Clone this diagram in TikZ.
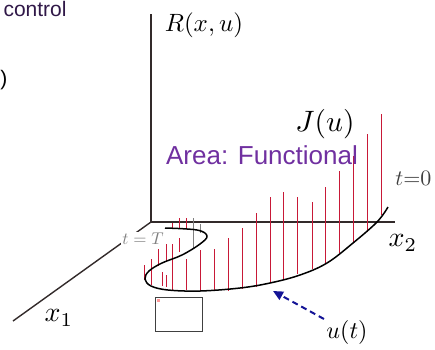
\RequirePackage{fix-cm}
\documentclass[tikz,border=0pt]{standalone}
\usepackage{fontspec}
\newfontfamily\arialfont{Liberation Sans}
\usetikzlibrary{arrows.meta}
\definecolor{axisgray}{RGB}{50,42,42}
\definecolor{stickred}{RGB}{200,25,55}
\definecolor{areapurple}{RGB}{112,48,160}
\definecolor{ctrlpurple}{RGB}{48,24,72}
\definecolor{arrowblue}{RGB}{20,20,150}

\begin{document}
\begin{tikzpicture}[
            x=1pt, y=-1pt,
            axis/.style={draw=axisgray, line width=1.4pt},
            stick/.style={draw=stickred, line width=0.9pt},
            shadestick/.style={draw=gray, line width=0.9pt},
            ucurve/.style={draw=black, line width=1.5pt},
            mathlabel/.style={inner sep=0pt, font=\fontsize{10}{12}\selectfont},
            sanslabel/.style={inner sep=0pt, font=\arialfont\fontsize{10}{12}\selectfont},
            uarrow/.style={-{Triangle[length=10pt,width=9pt]}, draw=arrowblue, line width=2pt, dash pattern=on 6pt off 4pt}
        ]
            \useasboundingbox (0,0) rectangle (435,349);
            \coordinate (origin) at (151,222);
            \coordinate (rtop) at (151,14);
            \coordinate (x2end) at (395,222);
            \coordinate (x1end) at (13,321);
            
            \draw[axis] (origin) -- (rtop);
            \draw[axis] (origin) -- (x2end);
            \draw[axis] (origin) -- (x1end);
            
            % bars of R over the path
            \foreach \sx/\sa/\sb in {144/265/280, 151/259/285, 158/249/266, 162/272/286,
                166/244/262, 166/275/287, 172/223/228, 172/244/290, 179/218/228, 179/238/252,
                186/218/228, 186/259/290, 200/250/291, 214/249/291, 228/238/291, 242/228/289,
                256/213/287, 270/197/283, 283/192/279, 297/197/274, 312/202/269, 325/187/264,
                339/171/253, 353/156/242, 367/134/232, 381/114/215}
                \draw[stick] (\sx,\sa) -- (\sx,\sb);
            \draw[shadestick] (193,218) -- (193,248);
            \draw[shadestick] (200,224) -- (200,233);
            
            % the path u(t)
            \draw[ucurve] plot[smooth, tension=0.6] coordinates {(165,228) (197,230) (207,236)
                (200,244) (182,255) (162,263) (149,271) (145,279) (151,286) (168,290) (200,291)
                (240,288) (270,283) (300,275) (327,263) (353,243) (377,222) (388,207)};
            
            \node[mathlabel, scale=2.5] (rlabel) at (204,25) {$R(x,u)$};
            \node[mathlabel, scale=2.95] (jlabel) at (325,124) {$J(u)$};
            \node[sanslabel, scale=2.6, text=areapurple] (area) at (262,155) {Area: Functional};
            \node[mathlabel, scale=2.2, anchor=west, text=darkgray] (tzero) at (395,178) {$t{=}0$};
            \node[mathlabel, scale=1.7, fill=white, inner sep=1pt, text=gray] (tend) at (143,239) {$t=T$};
            \node[mathlabel, scale=2.8] (xtwo) at (403,243) {$x_2$};
            \node[mathlabel, scale=2.8] (xone) at (59,318) {$x_1$};
            \node[mathlabel, scale=2.4] (ulabel) at (347,332) {$u(t)$};
            \node[sanslabel, scale=2.1, anchor=base east, text=ctrlpurple] (control) at (67,16) {control};
            \node[sanslabel, scale=2.1, anchor=base west] (paren) at (0,85) {)};
            
            % small thumbnail under the path
            \node[draw=black!75, line width=1pt, minimum width=47pt, minimum height=34pt, inner sep=0pt] (thumb) at (179,314) {};
            \fill[red!40] (157,299) rectangle (160,302);
            
            \coordinate (utail) at (324,319);
            \coordinate (uhead) at (273,291);
            \draw[uarrow] (utail) -- (uhead);
        \end{tikzpicture}
\end{document}
